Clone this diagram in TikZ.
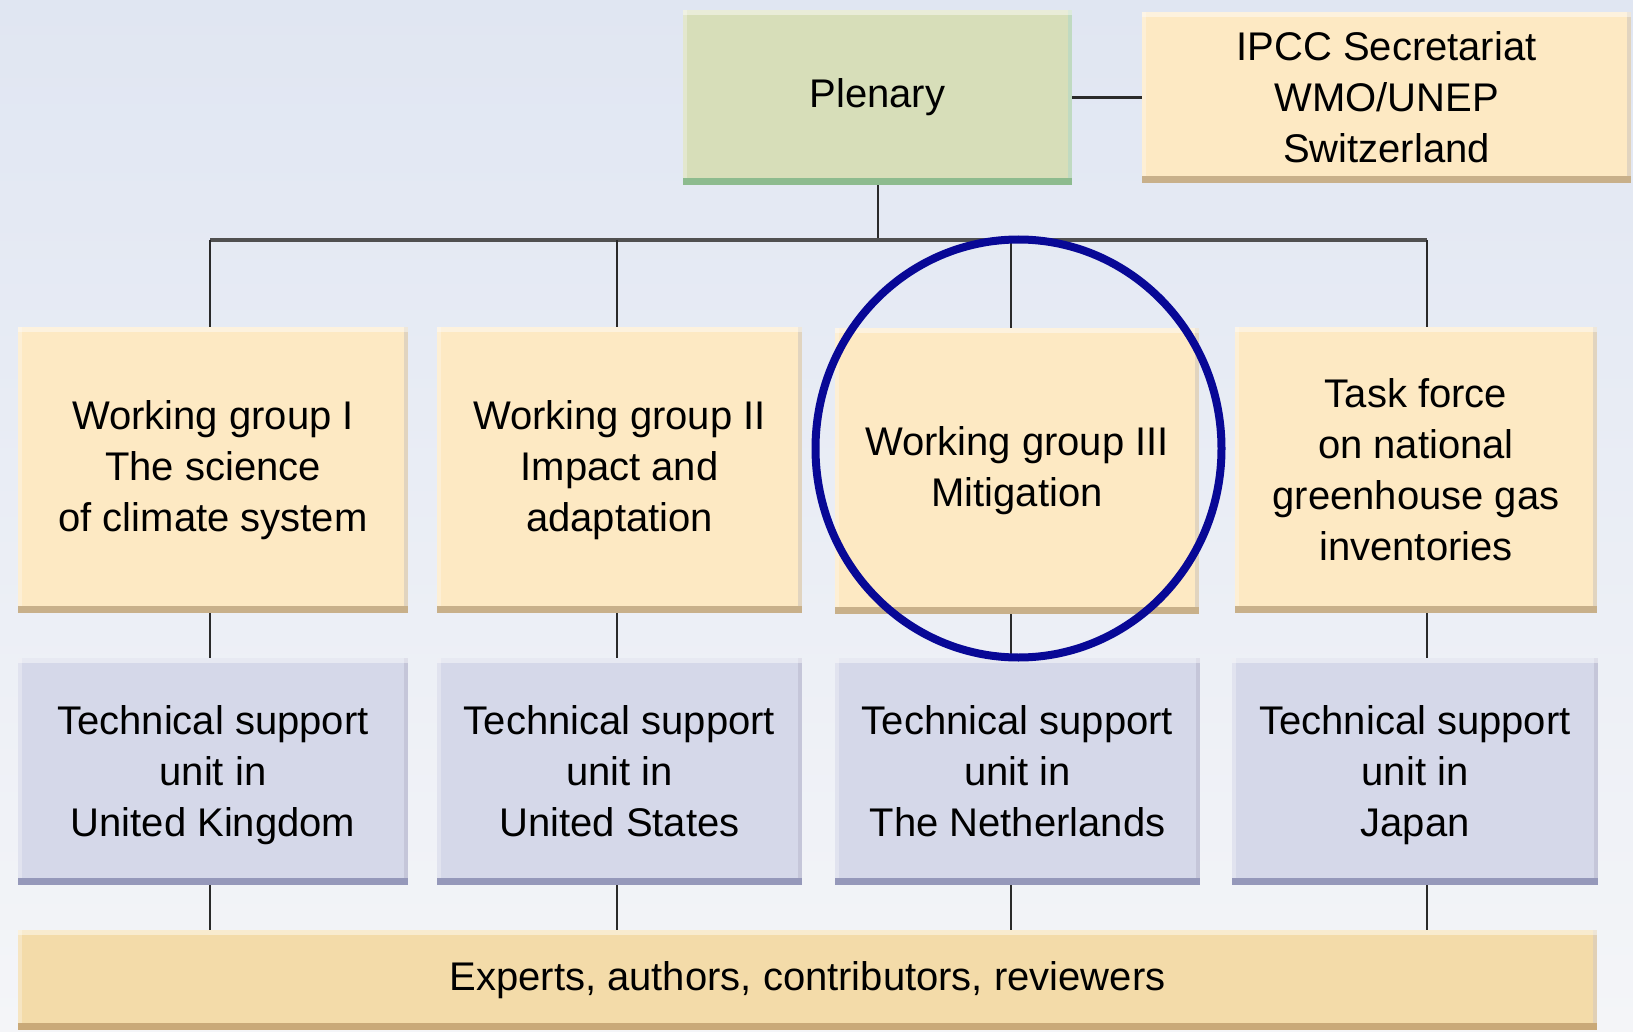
\documentclass[tikz,border=0pt]{standalone}
\usepackage{fontspec}
\setmainfont{Liberation Sans}
\definecolor{bgtop}{HTML}{E0E6F2}
\definecolor{bgbot}{HTML}{F4F5F8}
\definecolor{gfill}{HTML}{D7DEB9}
\definecolor{gshade}{HTML}{8DBB8E}
\definecolor{yfill}{HTML}{FDE9C3}
\definecolor{yshade}{HTML}{C8B08A}
\definecolor{bfill}{HTML}{D5D8E9}
\definecolor{bshade}{HTML}{9598BA}
\definecolor{efill}{HTML}{F3DBA9}
\definecolor{eshade}{HTML}{C9A978}
\definecolor{linec}{HTML}{2A2A2A}
\definecolor{busc}{HTML}{505050}
\definecolor{ringc}{RGB}{8,8,150}
\newcommand{\mytopstrut}{\rule{0pt}{43pt}}
\tikzset{
  box/.style={inner sep=0pt, align=center, font=\fontsize{40}{51}\selectfont, text=black},
  bevel/.style={path picture={
      \fill[#1] (path picture bounding box.south west) rectangle ([yshift=7pt]path picture bounding box.south east);
      \fill[#1!55] ([xshift=-4pt]path picture bounding box.north east) rectangle ([yshift=7pt]path picture bounding box.south east);
      \fill[white,opacity=0.45] (path picture bounding box.north west) rectangle ([yshift=-5pt]path picture bounding box.north east);
      \fill[white,opacity=0.3] (path picture bounding box.north west) rectangle ([xshift=4pt,yshift=7pt]path picture bounding box.south west);}},
  greenbox/.style={box, fill=gfill, bevel=gshade},
  yellowbox/.style={box, fill=yfill, bevel=yshade},
  bluebox/.style={box, fill=bfill, bevel=bshade},
  expbox/.style={box, fill=efill, bevel=eshade},
  conn/.style={draw=linec, line width=2.6pt},
  busline/.style={draw=busc, line width=3.5pt},
  ring/.style={draw=ringc, line width=8pt}
}
\begin{document}
\begin{tikzpicture}[x=1pt,y=-1pt]
\useasboundingbox (0,0) rectangle (1633,1032);
\shade[top color=bgtop,bottom color=bgbot] (0,0) rectangle (1633,1032);

% top row
\node[greenbox, minimum width=389pt, minimum height=175pt] (plen) at (877.5,97.5) {\strut Plenary};
\node[yellowbox, minimum width=489pt, minimum height=171pt] (sec) at (1386.5,97.5) {\mytopstrut IPCC Secretariat\\WMO/UNEP\\Switzerland\strut};

% working groups
\node[yellowbox, minimum width=390pt, minimum height=286pt] (wg1) at (213,470) {\strut Working group I\\The science\\of climate system\strut};
\node[yellowbox, minimum width=365pt, minimum height=286pt] (wg2) at (619.5,470) {\strut Working group II\\Impact and\\adaptation\strut};
\node[yellowbox, minimum width=364pt, minimum height=286pt] (wg3) at (1017,471) {\strut Working group III\\Mitigation\strut};
\node[yellowbox, minimum width=362pt, minimum height=286pt] (tf) at (1416,470) {\mytopstrut Task force\\on national\\greenhouse gas\\inventories\strut};

% technical support units
\node[bluebox, minimum width=390pt, minimum height=227pt] (tsu1) at (213,771.5) {\mytopstrut Technical support\\unit in\\United Kingdom\strut};
\node[bluebox, minimum width=365pt, minimum height=227pt] (tsu2) at (619.5,771.5) {\mytopstrut Technical support\\unit in\\United States\strut};
\node[bluebox, minimum width=365pt, minimum height=227pt] (tsu3) at (1017.5,771.5) {\mytopstrut Technical support\\unit in\\The Netherlands\strut};
\node[bluebox, minimum width=366pt, minimum height=227pt] (tsu4) at (1415,771.5) {\mytopstrut Technical support\\unit in\\Japan\strut};

% experts
\node[expbox, minimum width=1579pt, minimum height=100pt] (exp) at (807.5,980) {\strut Experts, authors, contributors, reviewers};

% bus coordinates
\coordinate (b0) at (878,240);
\coordinate (c1) at (210,240);
\coordinate (c2) at (617,240);
\coordinate (c3) at (1011,240);
\coordinate (c4) at (1427,240);

% connectors
\draw[conn] (plen.east) -- (plen.east -| sec.west);
\draw[conn] (plen.south -| b0) -- (b0);
\draw[busline] (c1) -- (c4);
\draw[conn] (c1) -- (c1 |- wg1.north);
\draw[conn] (c2) -- (c2 |- wg2.north);
\draw[conn] (c3) -- (c3 |- wg3.north);
\draw[conn] (c4) -- (c4 |- tf.north);
\draw[conn] (wg1.south -| c1) -- (tsu1.north -| c1);
\draw[conn] (wg2.south -| c2) -- (tsu2.north -| c2);
\draw[conn] (wg3.south -| c3) -- (tsu3.north -| c3);
\draw[conn] (tf.south -| c4) -- (tsu4.north -| c4);
\draw[conn] (tsu1.south -| c1) -- (exp.north -| c1);
\draw[conn] (tsu2.south -| c2) -- (exp.north -| c2);
\draw[conn] (tsu3.south -| c3) -- (exp.north -| c3);
\draw[conn] (tsu4.south -| c4) -- (exp.north -| c4);

% highlight ring
\coordinate (rc) at (1018.5,448.5);
\draw[ring] (rc) ellipse [x radius=203pt, y radius=209pt];
\end{tikzpicture}
\end{document}
